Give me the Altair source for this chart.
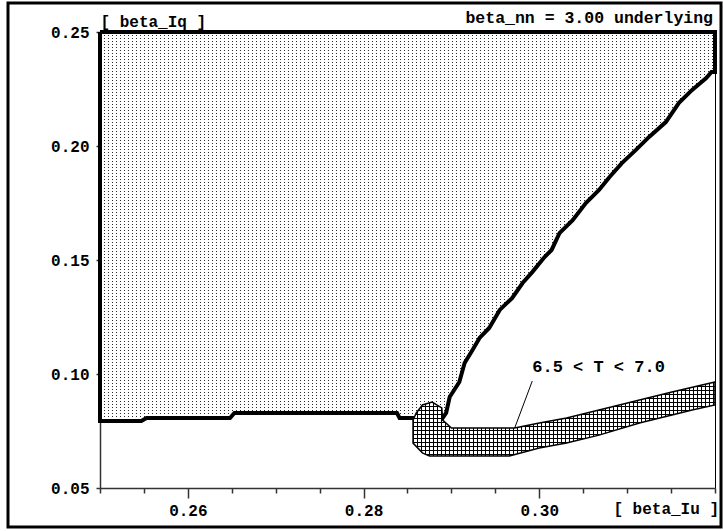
import altair as alt
import pandas as pd

# ---------------- data ----------------
# Dotted region (outline, closed), beta_Iu vs beta_Iq
dotted_x = [0.25, 0.32, 0.32, 0.3196, 0.3190, 0.3174, 0.3159, 0.3144, 0.3125, 0.3110,
            0.3094, 0.3080, 0.3068, 0.3053, 0.3038, 0.3023, 0.3014, 0.3006, 0.2992,
            0.2981, 0.2969, 0.2955, 0.2943, 0.2932, 0.2924, 0.2915, 0.2909, 0.2898,
            0.2894, 0.2890, 0.2841, 0.2838, 0.2653, 0.2648, 0.2553, 0.2547, 0.25, 0.25]
dotted_y = [0.25, 0.25, 0.2325, 0.2325, 0.2298, 0.2246, 0.2189, 0.2105, 0.2040, 0.1983,
            0.1925, 0.1864, 0.1807, 0.1750, 0.1675, 0.1618, 0.1544, 0.1513, 0.1447,
            0.1399, 0.1333, 0.1281, 0.1202, 0.1158, 0.1105, 0.1048, 0.0965, 0.0899,
            0.0829, 0.0807, 0.0807, 0.0829, 0.0829, 0.0807, 0.0807, 0.0794, 0.0794, 0.25]

# Cross-hatched band "6.5 < T < 7.0" (closed)
hatch_x = [0.28563, 0.2860, 0.2867, 0.2878, 0.2889, 0.2890, 0.2900, 0.2972, 0.3000,
           0.3031, 0.3068, 0.3114, 0.3151, 0.32, 0.32, 0.3174, 0.3151, 0.3114, 0.3068,
           0.3031, 0.3000, 0.2966, 0.2875, 0.2867, 0.28563, 0.28563]
hatch_y = [0.0798, 0.0829, 0.0864, 0.0877, 0.0851, 0.0798, 0.0763, 0.0763, 0.0785,
           0.0807, 0.0842, 0.0886, 0.0921, 0.09649, 0.0864, 0.0842, 0.0820, 0.0785,
           0.0732, 0.0697, 0.0675, 0.0640, 0.0640, 0.0654, 0.0697, 0.0798]

leader_x = [0.2992, 0.2972]
leader_y = [0.0969, 0.0763]

annot_label = ["6.5 < T < 7.0"]
annot_x = [0.2992]
annot_y = [0.1031]

header_text = ["beta_nn = 3.00 underlying"]
x_title = ["[ beta_Iu ]"]
x_title_at = [0.32]
y_title = "[ beta_Iq ]"

x_ticks = [0.25, 0.255, 0.26, 0.265, 0.27, 0.275, 0.28, 0.285, 0.29, 0.295,
           0.30, 0.305, 0.31, 0.315, 0.32]
y_ticks = [0.05, 0.10, 0.15, 0.20, 0.25]

# ---------------- styling ----------------
FONT = "Liberation Mono"
W, H = 615, 456
CLEAR = "rgba(255,255,255,0)"


def stripe_gradient(extent_px, period, line_px, line_color, gap_color, along_x):
    stops = []
    pos = 0.0
    while pos < extent_px - 1e-9:
        a = round(pos / extent_px, 6)
        b = round(min(pos + line_px, extent_px) / extent_px, 6)
        c = round(min(pos + period, extent_px) / extent_px, 6)
        stops += [alt.GradientStop(color=line_color, offset=a),
                  alt.GradientStop(color=line_color, offset=b),
                  alt.GradientStop(color=gap_color, offset=b),
                  alt.GradientStop(color=gap_color, offset=c)]
        pos += period
    return alt.LinearGradient(gradient="linear", stops=stops, x1=0, y1=0,
                              x2=1 if along_x else 0, y2=0 if along_x else 1)


xs = alt.Scale(domain=[0.25, 0.32], nice=False, zero=False)
ys = alt.Scale(domain=[0.05, 0.25], nice=False, zero=False)

major = "datum.value == 0.26 || datum.value == 0.28 || datum.value == 0.3"
xaxis = alt.Axis(
    values=x_ticks,
    labelExpr="(" + major + ") ? format(datum.value, '.2f') : ''",
    tickSize={"condition": {"test": major, "value": 10}, "value": 5},
    labelFlush=False, labelOverlap=False, labelPadding=4, title=None, grid=False,
    domainColor="#333", tickColor="#333", domainWidth=1.5, tickWidth=1.5,
    labelFont=FONT, labelFontSize=16, labelFontWeight="bold", labelColor="black",
)
yaxis = alt.Axis(
    values=y_ticks, format=".2f", tickSize=4, labelPadding=7, grid=False,
    domainColor="#333", tickColor="#333", domainWidth=1.5, tickWidth=1.5,
    labelFont=FONT, labelFontSize=16, labelFontWeight="bold", labelColor="black",
    title=y_title, titleAngle=0, titleX=0, titleY=-6, titleAlign="left",
    titleBaseline="alphabetic", titleFont=FONT, titleFontSize=16,
    titleFontWeight="bold", titleColor="black",
)

X = alt.X("x:Q", scale=xs, axis=xaxis)
Y = alt.Y("y:Q", scale=ys, axis=yaxis)

dotted = pd.DataFrame({"x": dotted_x, "y": dotted_y, "i": range(len(dotted_x))})
hatch = pd.DataFrame({"x": hatch_x, "y": hatch_y, "i": range(len(hatch_x))})
leader = pd.DataFrame({"x": leader_x, "y": leader_y, "i": range(len(leader_x))})
annot = pd.DataFrame({"x": annot_x, "y": annot_y, "t": annot_label})
xtitle_df = pd.DataFrame({"x": x_title_at, "t": x_title})

enc = dict(x=X, y=Y, order=alt.Order("i:Q"))

# bounding boxes in px (for stripe gradients)
d_w = W
d_h = (max(dotted_y) - min(dotted_y)) / 0.2 * H
h_w = (max(hatch_x) - min(hatch_x)) / 0.07 * W
h_h = (max(hatch_y) - min(hatch_y)) / 0.2 * H

dot_base = alt.Chart(dotted).mark_line(fill="#2a2a2a", strokeOpacity=0, strokeWidth=0).encode(**enc)
dot_v = alt.Chart(dotted).mark_line(
    fill=stripe_gradient(d_w, 4, 1, CLEAR, "white", True), strokeOpacity=0, strokeWidth=0).encode(**enc)
dot_h = alt.Chart(dotted).mark_line(
    fill=stripe_gradient(d_h, 3, 1, CLEAR, "white", False), strokeOpacity=0, strokeWidth=0).encode(**enc)
dot_outline = alt.Chart(dotted).mark_line(color="black", strokeWidth=4, strokeJoin="miter").encode(**enc)

hatch_base = alt.Chart(hatch).mark_line(fill="white", strokeOpacity=0, strokeWidth=0).encode(**enc)
hatch_v = alt.Chart(hatch).mark_line(
    fill=stripe_gradient(h_w, 4, 1, "black", CLEAR, True), strokeOpacity=0, strokeWidth=0).encode(**enc)
hatch_h = alt.Chart(hatch).mark_line(
    fill=stripe_gradient(h_h, 4, 1, "black", CLEAR, False), strokeOpacity=0, strokeWidth=0).encode(**enc)
hatch_outline = alt.Chart(hatch).mark_line(color="black", strokeWidth=1.5).encode(**enc)

leader_line = alt.Chart(leader).mark_line(color="black", strokeWidth=1).encode(**enc)

annot_text = alt.Chart(annot).mark_text(
    font=FONT, fontSize=17, fontWeight="bold", align="left", baseline="middle", color="black"
).encode(x=X, y=Y, text="t:N")

xtitle_text = alt.Chart(xtitle_df).mark_text(
    font=FONT, fontSize=16, fontWeight="bold", align="right", baseline="middle",
    color="black", dx=4
).encode(x=X, y=alt.value(H + 21), text="t:N")

header = alt.Chart(pd.DataFrame({"t": header_text})).mark_text(
    font=FONT, fontSize=16.5, fontWeight="bold", align="right", baseline="alphabetic", color="black"
).encode(x=alt.value(613), y=alt.value(-9), text="t:N")

frame = alt.Chart(pd.DataFrame({"t": [0]})).mark_rect(
    filled=False, stroke="black", strokeWidth=3, fillOpacity=0
).encode(x=alt.value(-92), x2=alt.value(621), y=alt.value(-29), y2=alt.value(495))

chart = alt.layer(
    dot_base, dot_v, dot_h, dot_outline,
    hatch_base, hatch_v, hatch_h, hatch_outline,
    leader_line, annot_text, xtitle_text, header, frame,
).properties(
    width=W, height=H, autosize="none",
    padding={"left": 100, "top": 32, "right": 8, "bottom": 43},
    background="white",
).configure_view(stroke="black", strokeWidth=1)

chart.save("out.html", embed_options={"renderer": "svg", "actions": False})
